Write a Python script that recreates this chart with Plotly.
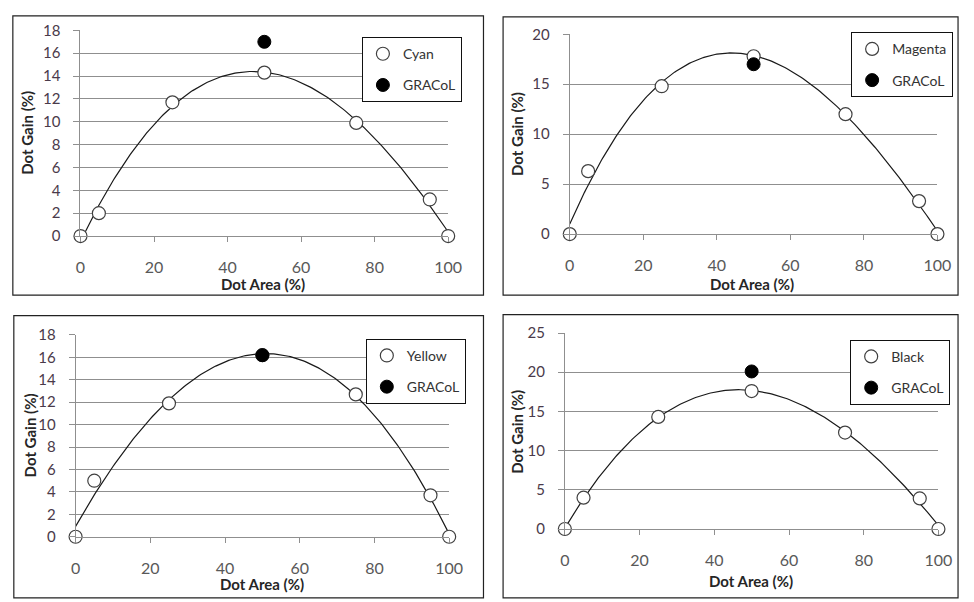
import numpy as np
import plotly.graph_objects as go

W, H = 974, 602

# ---------------- data ----------------
dot_area = [0, 5, 25, 50, 75, 95, 100]
cyan = [0, 2.0, 11.7, 14.3, 9.9, 3.2, 0]
magenta = [0, 6.3, 14.8, 17.8, 12.0, 3.3, 0]
yellow = [0, 5.0, 11.9, 16.2, 12.7, 3.7, 0]
black = [0, 4.0, 14.3, 17.6, 12.3, 3.9, 0]

gracol_x = [50]
gracol_cyan = [17.0]
gracol_magenta = [17.0]
gracol_yellow = [16.2]
gracol_black = [20.1]

series_names = ["Cyan", "Magenta", "Yellow", "Black"]
series_values = [cyan, magenta, yellow, black]
gracol_values = [gracol_cyan, gracol_magenta, gracol_yellow, gracol_black]
y_max = [18, 20, 18, 25]
y_step = [2, 5, 2, 5]
x_ticks = [0, 20, 40, 60, 80, 100]

# ---------------- layout geometry (pixels) ----------------
panels = [
    dict(plot=(77, 452, 21, 233), border=(8, 6, 488, 294), legend=(364, 28, "left"),
         ytitle=(23, 127), xtitle=(263, 282)),
    dict(plot=(576, 951, 25, 231), border=(508, 7, 972, 294), legend=(967, 23, "right"),
         ytitle=(522, 128), xtitle=(762, 282)),
    dict(plot=(72, 453, 335, 543), border=(9, 315, 488, 606), legend=(368, 339, "left"),
         ytitle=(25, 439), xtitle=(262, 592)),
    dict(plot=(571, 952, 333, 535), border=(508, 314, 972, 606), legend=(862, 340, "left"),
         ytitle=(522, 435), xtitle=(761, 589)),
]

FONT = "Lato, Carlito, Calibri, sans-serif"
GRID = "#8f8f8f"

def px(x):
    return x / W

def py(y):
    return 1 - y / H

fig = go.Figure()
shapes = []
annotations = []
layout = {}

for i, p in enumerate(panels):
    n = i + 1
    xa = "x" if n == 1 else f"x{n}"
    ya = "y" if n == 1 else f"y{n}"
    xkey = "xaxis" if n == 1 else f"xaxis{n}"
    ykey = "yaxis" if n == 1 else f"yaxis{n}"
    lkey = "legend" if n == 1 else f"legend{n}"
    x0, x1, yt, yb = p["plot"]
    vals = series_values[i]

    # polynomial trendline fitted to the data
    coef = np.polyfit(dot_area, vals, 3)
    xs = np.linspace(0, 100, 201)
    ys = np.polyval(coef, xs)
    fig.add_trace(go.Scatter(x=xs, y=ys, mode="lines", xaxis=xa, yaxis=ya,
                             line=dict(color="#1a1a1a", width=1.2),
                             showlegend=False, hoverinfo="skip", cliponaxis=False))
    fig.add_trace(go.Scatter(x=dot_area, y=vals, mode="markers", name=series_names[i],
                             xaxis=xa, yaxis=ya, legend=lkey, legendgroup=f"s{n}",
                             marker=dict(symbol="circle", size=13, color="white",
                                         line=dict(color="#404040", width=1.2)),
                             cliponaxis=False))
    fig.add_trace(go.Scatter(x=gracol_x, y=gracol_values[i], mode="markers", name="GRACoL",
                             xaxis=xa, yaxis=ya, legend=lkey, legendgroup=f"g{n}",
                             marker=dict(symbol="circle", size=13, color="black",
                                         line=dict(color="black", width=1)),
                             cliponaxis=False))

    layout[xkey] = dict(domain=[px(x0), px(x1)], range=[0, 100], anchor=ya,
                        tickvals=x_ticks, showgrid=False, zeroline=False,
                        showline=True, linecolor=GRID, linewidth=1,
                        ticks="outside", ticklen=5, tickcolor=GRID,
                        ticklabelstandoff=12,
                        tickfont=dict(family=FONT, size=16, color="#595959"))
    layout[ykey] = dict(domain=[py(yb), py(yt)], range=[0, y_max[i]], anchor=xa,
                        dtick=y_step[i], tick0=0, showgrid=True, gridcolor=GRID,
                        gridwidth=1, zeroline=False, showline=True, linecolor=GRID,
                        linewidth=1, ticks="outside", ticklen=6, tickcolor=GRID,
                        ticklabelstandoff=10,
                        tickfont=dict(family=FONT, size=15, color="#4a3a4a"))
    lx, ly, lanchor = p["legend"]
    layout[lkey] = dict(x=px(lx), y=py(ly), xanchor=lanchor, yanchor="top",
                        xref="paper", yref="paper",
                        bgcolor="white", bordercolor="#111111", borderwidth=1,
                        font=dict(family=FONT, size=14, color="#333333"),
                        tracegroupgap=10, itemwidth=30)

    bx0, by0, bx1, by1 = p["border"]
    shapes.append(dict(type="rect", xref="paper", yref="paper",
                       x0=px(bx0), x1=px(bx1), y0=py(by1), y1=py(by0),
                       line=dict(color="#222222", width=1.2), layer="below"))
    tx, ty = p["xtitle"]
    annotations.append(dict(text="<b>Dot Area (%)</b>", x=px(tx), y=py(ty),
                            xref="paper", yref="paper", showarrow=False,
                            xanchor="center", yanchor="middle",
                            font=dict(family=FONT, size=15, color="#262626")))
    gx, gy = p["ytitle"]
    annotations.append(dict(text="<b>Dot Gain (%)</b>", x=px(gx), y=py(gy),
                            xref="paper", yref="paper", showarrow=False, textangle=-90,
                            xanchor="center", yanchor="middle",
                            font=dict(family=FONT, size=15, color="#262626")))

fig.update_layout(width=W, height=H, margin=dict(l=0, r=0, t=0, b=0),
                  paper_bgcolor="white", plot_bgcolor="white",
                  shapes=shapes, annotations=annotations, **layout)

fig.write_html("out.html",
               config={"displayModeBar": False},
               post_script="document.body.style.margin='0px';"
                           "document.body.style.overflow='hidden';")
